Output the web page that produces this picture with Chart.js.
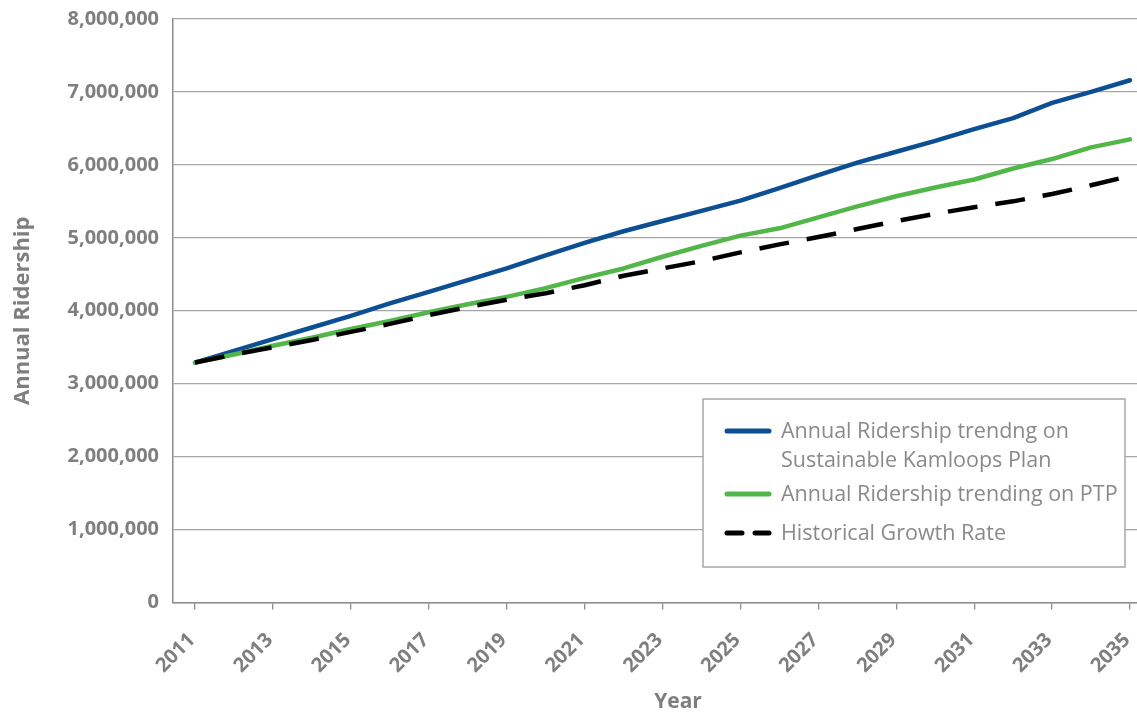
<!DOCTYPE html>
<html>
<head>
<meta charset="utf-8">
<title>Annual Ridership Projections</title>
<script src="https://cdn.jsdelivr.net/npm/chart.js@4.4.1/dist/chart.umd.min.js"></script>
<style>
  html, body { margin: 0; padding: 0; background: #ffffff; overflow: hidden; }
  #wrap { position: relative; width: 1137px; height: 713px; }
</style>
</head>
<body>
<div id="wrap"><canvas id="ridership"></canvas></div>
<script>
// Years on the horizontal axis
const years = [2011, 2012, 2013, 2014, 2015, 2016, 2017, 2018, 2019, 2020, 2021, 2022, 2023,
               2024, 2025, 2026, 2027, 2028, 2029, 2030, 2031, 2032, 2033, 2034, 2035];

// Annual ridership, Sustainable Kamloops Plan trend
const sustainableKamloops = [3290000, 3450000, 3610000, 3770000, 3930000, 4100000, 4260000, 4420000,
                             4580000, 4760000, 4930000, 5090000, 5230000, 5370000, 5510000, 5680000,
                             5860000, 6030000, 6180000, 6330000, 6490000, 6640000, 6850000, 7000000, 7160000];

// Annual ridership, PTP trend
const ptpTrend = [3290000, 3400000, 3520000, 3630000, 3750000, 3860000, 3980000, 4090000,
                  4190000, 4310000, 4450000, 4580000, 4740000, 4890000, 5030000, 5130000,
                  5280000, 5430000, 5570000, 5690000, 5800000, 5950000, 6080000, 6240000, 6350000];

// Annual ridership at the historical growth rate
const historicalGrowth = [3290000, 3400000, 3500000, 3600000, 3710000, 3820000, 3940000, 4050000,
                          4150000, 4240000, 4350000, 4480000, 4580000, 4680000, 4800000, 4910000,
                          5010000, 5120000, 5230000, 5330000, 5420000, 5500000, 5600000, 5720000, 5850000];

// Legend names (line breaks as shown in the legend)
const seriesNames = [
  ["Annual Ridership trendng on", "Sustainable Kamloops Plan"],
  ["Annual Ridership trending on PTP"],
  ["Historical Growth Rate"]
];

// Vertical axis ticks
const yTicks = [0, 1000000, 2000000, 3000000, 4000000, 5000000, 6000000, 7000000, 8000000];

const TEXT_GREY = '#7f7f7f';
const LEGEND_GREY = '#8a8a8a';

const seriesStyles = [
  { color: '#0d4f93', dash: [], cap: 'round', order: 3 },
  { color: '#52b748', dash: [], cap: 'round', order: 2 },
  { color: '#000000', dash: [30, 18], cap: 'butt', order: 1 }
];
const seriesValues = [sustainableKamloops, ptpTrend, historicalGrowth];

const datasets = seriesValues.map((vals, i) => ({
  label: seriesNames[i].join(' '),
  data: years.map((y, j) => ({ x: y, y: vals[j] })),
  borderColor: seriesStyles[i].color,
  backgroundColor: seriesStyles[i].color,
  borderWidth: 4.5,
  borderDash: seriesStyles[i].dash,
  borderCapStyle: seriesStyles[i].cap,
  borderJoinStyle: 'round',
  pointRadius: 0,
  tension: 0,
  fill: false,
  order: seriesStyles[i].order
}));

// Boxed legend drawn inside the plot area
const boxedLegend = {
  id: 'boxedLegend',
  afterDatasetsDraw(chart) {
    const ctx = chart.ctx;
    const box = { x: 703, y: 399, w: 422, h: 168 };
    const rowY = [431, 494, 533];
    ctx.save();
    ctx.fillStyle = '#ffffff';
    ctx.fillRect(box.x, box.y, box.w, box.h);
    ctx.strokeStyle = '#a8a8a8';
    ctx.lineWidth = 1.5;
    ctx.strokeRect(box.x, box.y, box.w, box.h);
    ctx.font = '21.5px "Open Sans", sans-serif';
    ctx.textBaseline = 'middle';
    ctx.textAlign = 'left';
    chart.data.datasets.forEach((ds, i) => {
      const y = rowY[i];
      ctx.beginPath();
      ctx.strokeStyle = ds.borderColor;
      ctx.lineWidth = 5;
      ctx.lineCap = 'round';
      if (ds.borderDash && ds.borderDash.length) {
        ctx.setLineDash([15, 13]);
      } else {
        ctx.setLineDash([]);
      }
      ctx.moveTo(727, y);
      ctx.lineTo(769, y);
      ctx.stroke();
      ctx.setLineDash([]);
      ctx.fillStyle = LEGEND_GREY;
      seriesNames[i].forEach((line, k) => {
        ctx.fillText(line, 781, y + 1 + k * 29);
      });
    });
    ctx.restore();
  }
};

// Horizontal axis caption
const yearCaption = {
  id: 'yearCaption',
  afterDraw(chart) {
    const ctx = chart.ctx;
    ctx.save();
    ctx.font = 'bold 21px "Open Sans", sans-serif';
    ctx.fillStyle = TEXT_GREY;
    ctx.textAlign = 'center';
    ctx.textBaseline = 'middle';
    ctx.fillText('Year', 678, 702);
    ctx.restore();
  }
};

new Chart(document.getElementById('ridership'), {
  type: 'line',
  data: { datasets },
  options: {
    responsive: true,
    maintainAspectRatio: false,
    animation: false,
    devicePixelRatio: 1,
    layout: { padding: { top: 19, left: 9, right: 0, bottom: 0 } },
    plugins: {
      legend: { display: false },
      tooltip: { enabled: false }
    },
    scales: {
      x: {
        type: 'linear',
        min: 2010.435,
        max: 2035.18,
        afterBuildTicks(scale) {
          scale.ticks = years.map(v => ({ value: v }));
        },
        afterFit(scale) {
          scale.height = 110.5;
          scale.paddingLeft = 0;
          scale.paddingRight = 0;
        },
        grid: {
          drawOnChartArea: false,
          drawTicks: true,
          tickLength: 7,
          color: '#8e8e8e',
          lineWidth: 1.3
        },
        border: { display: true, color: '#8e8e8e', width: 1.5 },
        ticks: {
          autoSkip: false,
          minRotation: 45,
          maxRotation: 45,
          padding: 19,
          labelOffset: -3,
          color: TEXT_GREY,
          font: { family: '"Open Sans", sans-serif', size: 20, weight: 'bold' },
          callback: (v) => ((v - years[0]) % 2 === 0 ? String(v) : null)
        }
      },
      y: {
        min: yTicks[0],
        max: yTicks[yTicks.length - 1],
        afterBuildTicks(scale) {
          scale.ticks = yTicks.map(v => ({ value: v }));
        },
        afterFit(scale) {
          scale.width = 164;
          scale.paddingTop = 0;
          scale.paddingBottom = 0;
        },
        grid: {
          drawTicks: false,
          color: '#a6a6a6',
          lineWidth: 1.2
        },
        border: { display: true, color: '#8e8e8e', width: 1.5 },
        ticks: {
          padding: 14,
          color: TEXT_GREY,
          font: { family: '"Open Sans", sans-serif', size: 20, weight: 'bold' },
          callback: (v) => v.toLocaleString('en-US')
        },
        title: {
          display: true,
          text: 'Annual Ridership',
          color: TEXT_GREY,
          padding: { top: 1, bottom: 0 },
          font: { family: '"Open Sans", sans-serif', size: 22, weight: 'bold' }
        }
      }
    }
  },
  plugins: [boxedLegend, yearCaption]
});
</script>
</body>
</html>
